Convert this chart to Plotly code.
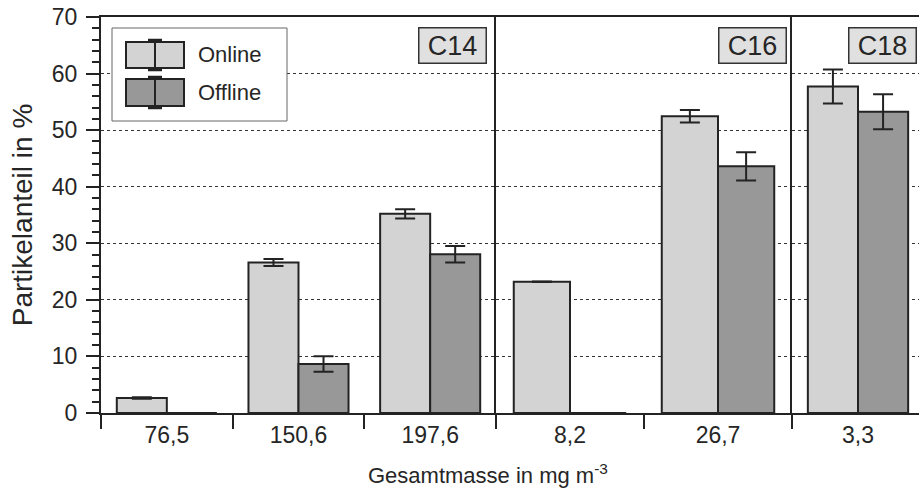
import plotly.graph_objects as go

# ---------------- data ----------------
groups = ["C14", "C16", "C18"]
masses_c14 = ["76,5", "150,6", "197,6"]
masses_c16 = ["8,2", "26,7"]
masses_c18 = ["3,3"]

online_c14 = [2.65, 26.6, 35.2]
online_c14_err = [0.12, 0.62, 0.8]
offline_c14 = [0.0, 8.65, 28.05]
offline_c14_err = [0.0, 1.38, 1.45]

online_c16 = [23.2, 52.45]
online_c16_err = [0.05, 1.1]
offline_c16 = [0.0, 43.6]
offline_c16_err = [0.0, 2.5]

online_c18 = [57.7]
online_c18_err = [3.0]
offline_c18 = [53.25]
offline_c18_err = [3.1]

series_names = ["Online", "Offline"]
y_title = "Partikelanteil in %"
x_title = "Gesamtmasse in mg m<sup>-3</sup>"

# ---------------- styles ----------------
FONT = "Liberation Sans, Arial, sans-serif"
TXT = "#262626"
LINE = "#232323"
C_ON = "#d3d3d3"
C_OFF = "#989898"

W, H = 919, 490
ML, MR, MT, MB = 101, 0, 17, 77
PW, PH = W - ML - MR, H - MT - MB

def px(x):
    return (x - ML) / PW

def py(y):
    return (H - MB - y) / PH

d1 = px(496)
d2 = px(792)

fig = go.Figure()

panels = [
    ("x", "y", masses_c14, online_c14, online_c14_err, offline_c14, offline_c14_err),
    ("x2", "y2", masses_c16, online_c16, online_c16_err, offline_c16, offline_c16_err),
    ("x3", "y3", masses_c18, online_c18, online_c18_err, offline_c18, offline_c18_err),
]

for xa, ya, cats, on, on_e, off, off_e in panels:
    for name, vals, errs, col in [("Online", on, on_e, C_ON), ("Offline", off, off_e, C_OFF)]:
        fig.add_trace(go.Bar(
            x=cats, y=vals, name=name, xaxis=xa, yaxis=ya, showlegend=False,
            marker=dict(color=col, line=dict(color=LINE, width=2)),
            error_y=dict(type="data", array=errs, visible=True,
                         color=LINE, thickness=2, width=10),
        ))

axis_common = dict(
    type="category", showline=True, linecolor=LINE, linewidth=2,
    mirror=True, ticks="outside", tickson="boundaries", ticklen=14,
    tickwidth=1.5, tickcolor=LINE, showgrid=False,
    tickfont=dict(family=FONT, size=23, color=TXT),
)

yaxis_common = dict(
    range=[0, 70], showgrid=True, gridcolor="#333333", griddash="dot",
    gridwidth=1, zeroline=False, showline=True, linecolor=LINE, linewidth=2,
    dtick=10,
)

fig.update_layout(
    width=W, height=H,
    margin=dict(l=ML, r=MR, t=MT, b=MB, pad=0),
    paper_bgcolor="white", plot_bgcolor="white",
    barmode="group", bargap=0.24, bargroupgap=0,
    font=dict(family=FONT, color=TXT),
    xaxis=dict(domain=[0, d1], anchor="y", **axis_common),
    xaxis2=dict(domain=[d1, d2], anchor="y2", **axis_common),
    xaxis3=dict(domain=[d2, 1], anchor="y3", range=[-0.5, -0.5 + 127 / 132], **axis_common),
    yaxis=dict(
        anchor="x", ticks="outside", ticklen=13, tickwidth=1.5, tickcolor=LINE,
        tickfont=dict(family=FONT, size=23, color=TXT), ticklabelstandoff=4,
        minor=dict(dtick=2, ticks="outside", ticklen=7, tickwidth=1.5, tickcolor=LINE, showgrid=False),
        title=dict(text=y_title, font=dict(family=FONT, size=28, color=TXT), standoff=11),
        **yaxis_common),
    yaxis2=dict(anchor="x2", matches="y", showticklabels=False, ticks="", **yaxis_common),
    yaxis3=dict(anchor="x3", matches="y", showticklabels=False, ticks="", **yaxis_common),
)

# group labels (C14 / C16 / C18)
for xa, label, shift in [("x", groups[0], -9), ("x2", groups[1], -5), ("x3", groups[2], -2)]:
    fig.add_annotation(
        text=label, xref=f"{xa} domain", yref="y domain", x=1, y=1,
        xanchor="right", yanchor="top", xshift=shift, yshift=-10,
        width=64, height=32, align="center", valign="middle",
        showarrow=False, font=dict(family=FONT, size=27, color=TXT),
        bgcolor="#e0e0e0", bordercolor="#333333", borderwidth=1.5, borderpad=1,
    )

# x axis title
fig.add_annotation(
    text=x_title, xref="paper", yref="paper", x=px(488), y=py(474),
    xanchor="center", yanchor="middle", showarrow=False,
    font=dict(family=FONT, size=22, color=TXT),
)

# custom legend (bar glyph with error bar)
fig.add_shape(type="rect", xref="paper", yref="paper",
              x0=px(112), x1=px(287), y0=py(121), y1=py(28),
              line=dict(color="#666666", width=1), fillcolor="white", layer="above")
for (y0, y1, col, name) in [(42, 68, C_ON, series_names[0]), (79, 106, C_OFF, series_names[1])]:
    fig.add_shape(type="rect", xref="paper", yref="paper",
                  x0=px(126), x1=px(184), y0=py(y1), y1=py(y0),
                  line=dict(color=LINE, width=2), fillcolor=col, layer="above")
    fig.add_shape(type="line", xref="paper", yref="paper",
                  x0=px(155), x1=px(155), y0=py(y1 + 2), y1=py(y0 - 2),
                  line=dict(color=LINE, width=2), layer="above")
    for yy in (y0 - 2, y1 + 2):
        fig.add_shape(type="line", xref="paper", yref="paper",
                      x0=px(148), x1=px(162), y0=py(yy), y1=py(yy),
                      line=dict(color=LINE, width=2.5), layer="above")
    fig.add_annotation(text=name, xref="paper", yref="paper",
                       x=px(196), y=py((y0 + y1) / 2), xanchor="left", yanchor="middle",
                       showarrow=False, font=dict(family=FONT, size=22, color=TXT))

fig.write_html("out.html")
